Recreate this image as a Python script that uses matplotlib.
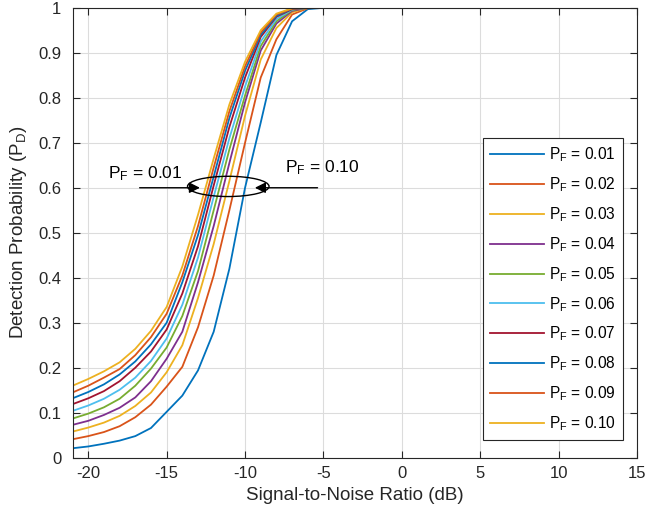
import matplotlib
matplotlib.use("Agg")
import matplotlib.pyplot as plt
from matplotlib.patches import Ellipse

plt.rcParams['font.family'] = ['Liberation Sans', 'DejaVu Sans']
plt.rcParams['mathtext.default'] = 'regular'
plt.rcParams['axes.unicode_minus'] = False

snr_db = [-21, -20, -19, -18, -17, -16, -15, -14, -13, -12, -11, -10, -9, -8, -7, -6, -5, 15]

pd_001 = [0.021, 0.025, 0.031, 0.038, 0.048, 0.066, 0.102, 0.138, 0.194, 0.280, 0.420, 0.600, 0.745, 0.895, 0.970, 0.997, 1.000, 1.000]
pd_002 = [0.041, 0.048, 0.057, 0.070, 0.090, 0.118, 0.158, 0.202, 0.290, 0.405, 0.550, 0.700, 0.845, 0.930, 0.985, 0.999, 1.000, 1.000]
pd_003 = [0.058, 0.067, 0.078, 0.093, 0.115, 0.145, 0.190, 0.250, 0.355, 0.475, 0.615, 0.760, 0.885, 0.955, 0.990, 1.000, 1.000, 1.000]
pd_004 = [0.073, 0.082, 0.095, 0.111, 0.134, 0.170, 0.220, 0.280, 0.390, 0.515, 0.655, 0.790, 0.905, 0.965, 0.993, 1.000, 1.000, 1.000]
pd_005 = [0.087, 0.098, 0.112, 0.131, 0.160, 0.198, 0.245, 0.315, 0.415, 0.550, 0.685, 0.805, 0.915, 0.970, 0.995, 1.000, 1.000, 1.000]
pd_006 = [0.104, 0.116, 0.131, 0.151, 0.178, 0.215, 0.265, 0.340, 0.445, 0.580, 0.710, 0.825, 0.925, 0.975, 0.996, 1.000, 1.000, 1.000]
pd_007 = [0.119, 0.132, 0.148, 0.170, 0.200, 0.236, 0.285, 0.365, 0.470, 0.605, 0.735, 0.845, 0.935, 0.980, 0.997, 1.000, 1.000, 1.000]
pd_008 = [0.132, 0.146, 0.163, 0.185, 0.214, 0.252, 0.300, 0.390, 0.495, 0.625, 0.755, 0.860, 0.940, 0.982, 0.998, 1.000, 1.000, 1.000]
pd_009 = [0.145, 0.160, 0.178, 0.197, 0.228, 0.268, 0.320, 0.405, 0.515, 0.645, 0.770, 0.870, 0.945, 0.985, 0.998, 1.000, 1.000, 1.000]
pd_010 = [0.160, 0.175, 0.192, 0.212, 0.242, 0.282, 0.335, 0.425, 0.540, 0.665, 0.785, 0.880, 0.950, 0.987, 0.999, 1.000, 1.000, 1.000]

series = [pd_001, pd_002, pd_003, pd_004, pd_005, pd_006, pd_007, pd_008, pd_009, pd_010]
labels = ['P$_F$ = 0.01', 'P$_F$ = 0.02', 'P$_F$ = 0.03', 'P$_F$ = 0.04', 'P$_F$ = 0.05',
          'P$_F$ = 0.06', 'P$_F$ = 0.07', 'P$_F$ = 0.08', 'P$_F$ = 0.09', 'P$_F$ = 0.10']

colors = ['#0072BD', '#D95319', '#EDB120', '#7E2F8E', '#77AC30',
          '#4DBEEE', '#A2142F', '#0072BD', '#D95319', '#EDB120']

xticks = [-20, -15, -10, -5, 0, 5, 10, 15]
yticks = [0, 0.1, 0.2, 0.3, 0.4, 0.5, 0.6, 0.7, 0.8, 0.9, 1]
yticklabels = ['0', '0.1', '0.2', '0.3', '0.4', '0.5', '0.6', '0.7', '0.8', '0.9', '1']

fig = plt.figure(figsize=(6.51, 5.2), dpi=100)
ax = fig.add_axes([0.1115, 0.1198, 0.867, 0.8652])

for y, lab, c in zip(series, labels, colors):
    ax.plot(snr_db, y, color=c, lw=1.3, label=lab)

ax.set_xlim(-21, 15)
ax.set_ylim(0, 1)
ax.set_xticks(xticks)
ax.set_yticks(yticks)
ax.set_yticklabels(yticklabels)
ax.grid(True, color='#dcdcdc', lw=0.8)
ax.set_axisbelow(True)
ax.tick_params(direction='in', top=True, right=True, labelsize=12, colors='#262626', length=5)
ax.tick_params(axis='y', pad=8)
ax.tick_params(axis='x', pad=6)
for s in ax.spines.values():
    s.set_color('#262626')
    s.set_linewidth(0.8)

ax.set_xlabel('Signal-to-Noise Ratio (dB)', fontsize=13.5, color='#262626', labelpad=4)
ax.set_ylabel('Detection Probability (P$_D$)', fontsize=13.5, color='#262626', labelpad=7)

# annotations
ell = Ellipse((-11.07, 0.603), 5.2, 0.045, facecolor='none', edgecolor='black', lw=1.0, zorder=5)
ax.add_patch(ell)
ax.annotate('', xy=(-12.7, 0.6), xytext=(-16.9, 0.6),
            arrowprops=dict(arrowstyle='-|>', color='black', lw=1.0, mutation_scale=16), zorder=6)
ax.annotate('', xy=(-9.55, 0.6), xytext=(-5.2, 0.6),
            arrowprops=dict(arrowstyle='-|>', color='black', lw=1.0, mutation_scale=16), zorder=6)
ax.text(-18.75, 0.621, 'P$_F$ = 0.01', fontsize=12.5, ha='left', va='baseline')
ax.text(-7.45, 0.634, 'P$_F$ = 0.10', fontsize=12.5, ha='left', va='baseline')

leg = ax.legend(loc='lower right', bbox_to_anchor=(0.975, 0.039), borderaxespad=0.0,
                fontsize=11.2, handlelength=3.5, labelspacing=0.72, fancybox=False,
                framealpha=1, edgecolor='#262626', borderpad=0.45, handletextpad=0.3)
leg.get_frame().set_linewidth(0.8)

fig.savefig('out.png', dpi=100)
